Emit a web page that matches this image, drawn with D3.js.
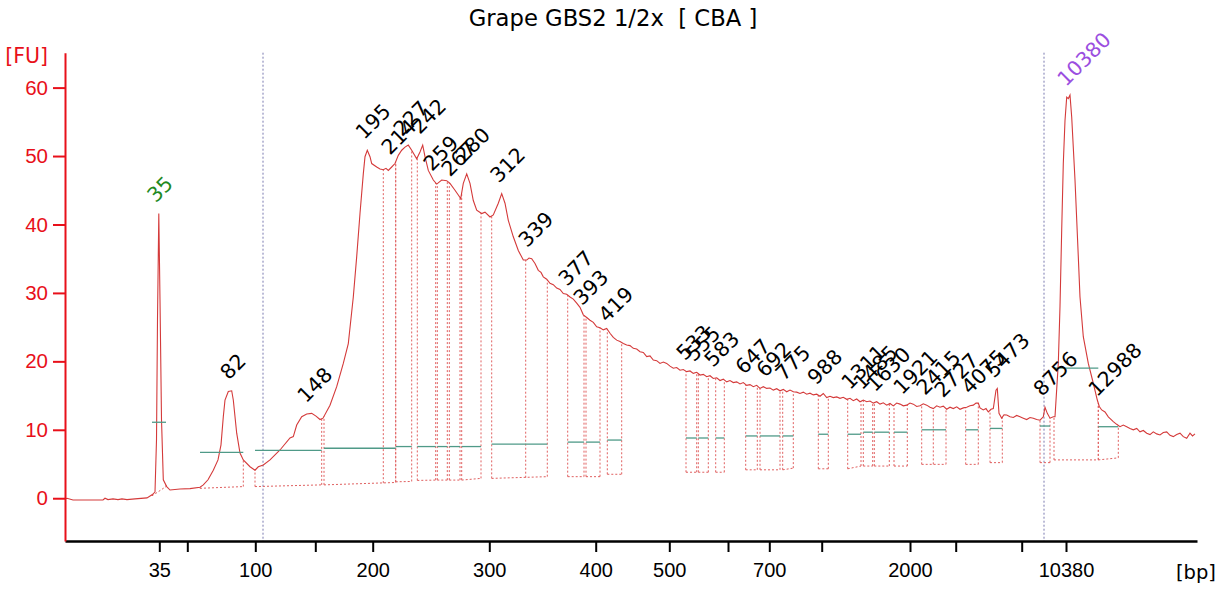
<!DOCTYPE html>
<html>
<head>
<meta charset="utf-8">
<script src="https://cdn.jsdelivr.net/npm/d3@7"></script>
<style>
body { margin: 0; background: #fff; }
svg { font-family: "DejaVu Sans", Verdana, sans-serif; }
</style>
</head>
<body>
<svg width="1217" height="590"></svg>
<script>
// migration time [s] -> fluorescence [FU]
const trace = [
  [40.0, -0.1], [40.2, 0.0], [40.8, -0.25], [42.5, -0.25], [43.8, -0.25], [44.0, 0.0],
  [44.3, -0.2], [44.8, -0.1], [45.3, -0.2], [45.7, -0.1], [46.2, -0.2], [47.0, -0.1],
  [48.2, 0.05], [48.7, 0.5], [49.0, 0.9], [49.15, 8.5], [49.25, 26.1], [49.38, 41.6],
  [49.5, 29.0], [49.65, 11.5], [49.83, 2.7], [50.17, 1.7], [50.5, 1.2], [51.5, 1.35],
  [52.5, 1.4], [53.5, 1.6], [53.83, 1.95], [54.3, 2.7], [54.83, 4.1], [55.3, 5.6],
  [55.6, 7.8], [55.83, 11.9], [56.0, 14.35], [56.33, 15.6], [56.67, 15.7], [56.83, 14.35],
  [57.17, 9.5], [57.5, 6.6], [57.83, 5.6], [58.5, 4.6], [59.0, 4.1], [59.33, 4.6],
  [59.83, 4.85], [60.5, 5.6], [61.5, 7.05], [62.5, 8.8], [62.83, 9.0], [63.17, 10.7],
  [63.67, 11.9], [64.17, 12.3], [64.67, 12.4], [65.1, 12.0], [65.5, 11.5], [65.8, 11.7],
  [66.5, 13.6], [67.17, 16.3], [67.83, 19.7], [68.33, 22.6], [68.83, 29.4], [69.17, 35.3],
  [69.5, 41.6], [69.83, 47.4], [70.0, 49.9], [70.23, 50.85], [70.5, 49.9], [70.67, 48.9],
  [71.17, 48.4], [71.5, 48.1], [71.83, 48.0], [72.1, 48.2], [72.33, 47.9], [72.67, 48.4],
  [73.0, 48.9], [73.33, 50.1], [73.67, 50.85], [74.0, 51.3], [74.33, 51.6], [74.67, 50.85],
  [75.17, 49.6], [75.5, 50.6], [75.77, 51.6], [76.0, 49.9], [76.33, 47.9], [76.83, 46.5],
  [77.17, 45.9], [77.67, 46.5], [78.17, 46.4], [78.5, 46.0], [79.0, 45.0], [79.33, 44.3],
  [79.57, 43.8], [79.83, 46.0], [80.17, 47.4], [80.5, 46.0], [80.83, 43.5], [81.17, 42.1],
  [81.67, 41.6], [82.0, 41.8], [82.5, 41.1], [82.83, 41.4], [83.33, 43.1], [83.67, 44.5],
  [84.0, 43.1], [84.33, 40.6], [84.83, 38.2], [85.33, 36.2], [85.83, 34.8], [86.17, 34.8],
  [86.4, 35.1], [86.67, 35.0], [87.0, 34.3], [87.33, 33.3], [87.6, 33.0], [87.83, 32.35],
  [88.17, 32.0], [88.5, 31.4], [88.83, 31.2], [89.17, 30.7], [89.5, 30.5], [89.83, 29.9],
  [90.17, 29.8], [90.5, 29.4], [90.83, 29.1], [91.17, 28.5], [91.5, 27.9], [91.83, 26.8],
  [92.17, 26.4], [92.5, 26.0], [92.83, 25.7], [93.17, 25.05], [93.5, 24.9], [93.83, 24.6],
  [94.17, 24.8], [94.5, 24.1], [94.83, 23.5], [95.17, 23.1], [95.5, 22.9], [95.83, 22.6],
  [96.17, 22.4], [96.5, 22.3], [96.83, 21.9], [97.17, 21.8], [97.5, 21.4], [97.83, 21.3],
  [98.17, 20.7], [98.5, 20.8], [98.83, 20.2], [99.17, 20.1], [99.5, 19.7], [99.83, 19.9],
  [100.17, 19.7], [100.5, 19.3], [100.83, 19.0], [101.17, 19.1], [101.5, 18.7], [101.83, 18.8],
  [102.17, 18.5], [102.5, 18.6], [102.83, 18.25], [103.17, 18.4], [103.5, 18.0], [103.83, 18.1],
  [104.17, 17.75], [104.5, 17.9], [104.83, 17.5], [105.17, 17.6], [105.5, 17.2], [105.83, 17.4],
  [106.17, 17.0], [106.5, 17.2], [106.83, 16.9], [107.17, 17.0], [107.5, 16.7], [107.83, 16.9],
  [108.17, 16.5], [108.5, 16.6], [108.83, 16.3], [109.17, 16.5], [109.5, 16.05], [109.83, 16.3],
  [110.17, 16.05], [110.5, 16.1], [110.83, 15.8], [111.17, 16.0], [111.5, 15.7], [111.83, 15.9],
  [112.17, 15.55], [112.5, 15.8], [112.83, 15.55], [113.17, 15.5], [113.5, 15.3], [113.83, 15.5],
  [114.17, 15.2], [114.5, 15.35], [114.83, 15.1], [115.17, 15.2], [115.5, 14.9], [115.83, 15.3],
  [116.17, 14.7], [116.5, 14.9], [116.83, 14.7], [117.17, 14.8], [117.5, 14.6], [117.83, 14.75],
  [118.17, 14.45], [118.5, 14.6], [118.83, 14.25], [119.17, 14.5], [119.5, 14.1], [119.83, 14.35],
  [120.17, 14.1], [120.5, 14.2], [120.83, 13.9], [121.17, 14.1], [121.5, 13.75], [121.83, 13.95],
  [122.17, 13.6], [122.5, 13.85], [122.83, 13.5], [123.17, 13.9], [123.5, 13.75], [123.83, 13.5],
  [124.17, 13.6], [124.5, 13.9], [124.83, 13.75], [125.17, 13.4], [125.5, 13.5], [125.83, 13.8],
  [126.17, 13.6], [126.5, 13.3], [126.83, 13.1], [127.17, 13.5], [127.5, 13.3], [127.83, 13.45],
  [128.17, 13.0], [128.5, 13.3], [128.83, 13.1], [129.17, 13.35], [129.5, 13.0], [129.83, 13.2],
  [130.17, 13.3], [130.5, 13.5], [130.83, 13.6], [131.1, 13.9], [131.33, 13.9], [131.5, 13.2],
  [131.83, 12.9], [132.1, 13.1], [132.33, 12.6], [132.6, 13.0], [132.83, 13.1], [133.1, 15.8],
  [133.23, 16.05], [133.4, 12.4], [133.67, 11.7], [133.9, 12.2], [134.17, 12.15], [134.5, 11.9],
  [134.83, 11.8], [135.17, 12.1], [135.5, 11.9], [135.83, 11.7], [136.17, 11.5], [136.5, 11.8],
  [136.83, 11.7], [137.17, 11.5], [137.5, 11.4], [137.83, 11.9], [138.0, 13.3], [138.23, 12.4],
  [138.5, 11.7], [138.83, 11.9], [139.0, 11.9], [139.33, 19.7], [139.5, 28.0], [139.67, 39.2],
  [139.83, 48.9], [140.0, 55.2], [140.17, 58.6], [140.33, 58.4], [140.5, 58.9], [140.67, 55.7],
  [141.0, 46.5], [141.33, 35.3], [141.5, 29.4], [141.83, 23.6], [142.33, 19.7], [142.83, 16.8],
  [143.23, 14.35], [143.43, 13.4], [143.67, 12.9], [144.0, 12.6], [144.33, 11.9], [144.83, 11.2],
  [145.17, 10.8], [145.5, 10.45], [145.83, 10.7], [146.17, 10.45], [146.5, 10.2], [146.83, 10.0],
  [147.17, 10.2], [147.5, 9.7], [147.83, 9.9], [148.17, 9.5], [148.5, 9.3], [148.83, 9.7],
  [149.17, 9.4], [149.5, 9.25], [149.83, 9.6], [150.17, 9.7], [150.5, 9.2], [150.83, 9.0],
  [151.17, 9.3], [151.5, 9.5], [151.83, 9.0], [152.17, 8.75], [152.5, 9.5], [152.75, 9.1],
  [153.0, 9.4]
];

// x ticks: ladder sizes at their migration times
const tickTimes  = [49.43, 52.23, 59.03, 65.03, 70.77, 82.43, 93.07, 100.43, 106.3, 110.43, 115.67, 124.5, 129.07, 135.67, 140.1];
const tickLabels = ["35", "", "100", "", "200", "300", "400", "500", "", "700", "", "2000", "", "", "10380"];
const yTicks = [0, 10, 20, 30, 40, 50, 60];

// called peaks: size label and migration time
const peakSizes = [35, 82, 148, 195, 214, 227, 242, 259, 267, 280, 312, 339, 377, 393, 419,
  533, 555, 583, 647, 692, 775, 988, 1311, 1485, 1630, 1921, 2415, 2727, 4075, 5473, 8756, 10380, 12988];
const peakTimes = [49.38, 56.67, 64.4, 70.23, 72.8, 74.0, 75.77, 77.0, 78.8, 80.17, 83.67, 86.5, 90.5, 92.0, 94.5,
  102.3, 103.2, 105.1, 108.2, 110.3, 112.2, 115.4, 118.8, 120.0, 121.3, 124.0, 126.3, 128.1, 130.8, 133.2, 138.0, 140.4, 143.5];
const peakColors = {35: "#1f8a1f", 10380: "#9b4ee0"};

// integration regions: start, end, mark height, baseline at start, baseline at end
const regions = [
  [48.7, 50.1, 11.1, 0.35, 1.7],
  [53.5, 57.83, 6.7, 1.45, 1.7],
  [59.0, 65.67, 7.0, 1.7, 1.95],
  [65.9, 73.07, 7.3, 1.95, 2.3],
  [73.07, 74.67, 7.55, 2.4, 2.45],
  [75.23, 77.07, 7.55, 2.6, 2.65],
  [77.23, 78.23, 7.55, 2.65, 2.65],
  [78.43, 79.5, 7.55, 2.65, 2.65],
  [79.67, 81.6, 7.55, 2.65, 2.9],
  [82.67, 88.23, 7.9, 2.9, 3.15],
  [90.27, 91.9, 8.2, 3.15, 3.15],
  [92.1, 93.5, 8.2, 3.15, 3.15],
  [94.23, 95.67, 8.5, 3.5, 3.5],
  [102.1, 103.17, 8.8, 3.8, 3.8],
  [103.33, 104.33, 8.8, 3.8, 3.8],
  [105.07, 105.93, 8.8, 3.8, 3.8],
  [108.07, 109.23, 9.1, 4.15, 4.15],
  [109.5, 111.5, 9.1, 4.15, 4.15],
  [111.77, 112.83, 9.1, 4.15, 4.4],
  [115.33, 116.33, 9.35, 4.3, 4.3],
  [118.27, 119.6, 9.35, 4.3, 4.7],
  [119.83, 120.77, 9.65, 4.7, 4.7],
  [120.93, 122.43, 9.65, 4.7, 4.7],
  [122.9, 124.23, 9.65, 4.7, 4.7],
  [125.67, 128.1, 10.0, 4.95, 4.95],
  [130.07, 131.33, 10.0, 4.95, 4.95],
  [132.5, 133.73, 10.2, 5.2, 5.2],
  [137.5, 138.5, 10.55, 5.2, 5.2],
  [138.9, 143.33, 19.0, 5.6, 5.6],
  [143.33, 145.33, 10.45, 5.6, 5.9]
];
// split lines inside regions: time, baseline
const splits = [[71.83, 2.2], [86.07, 3.0], [126.83, 4.95]];
// lower / upper marker times
const markers = [59.8, 137.9];

const svg = d3.select('svg');
const x = d3.scaleLinear().domain([40, 153.2]).range([65, 1197]);
const y = d3.scaleLinear().domain([-6.25, 65.1]).range([541, 52.7]);

const bis = d3.bisector(d => d[0]).left;
function valueAt(t) {
    const i = Math.max(1, Math.min(trace.length - 1, bis(trace, t)));
    const a = trace[i - 1], b = trace[i];
    return a[1] + (b[1] - a[1]) * (t - a[0]) / (b[0] - a[0]);
}

svg.append('text')
    .attr('x', 613).attr('y', 26)
    .attr('text-anchor', 'middle')
    .style('font-size', '22.7px')
    .style('white-space', 'pre')
    .text('Grape GBS2 1/2x  [ CBA ]');

// marker lines
svg.selectAll('line.marker').data(markers).enter().append('line')
    .attr('class', 'marker')
    .attr('x1', d => x(d)).attr('x2', d => x(d))
    .attr('y1', y(65.1)).attr('y2', y(-6.25))
    .attr('stroke', '#7a7ab0').attr('stroke-width', 1)
    .attr('stroke-dasharray', '2,2');

// integration regions
const dotted = {stroke: '#e06060', 'stroke-width': 1, 'stroke-dasharray': '2,2'};
const rg = svg.append('g');
regions.forEach(r => {
    const [t0, t1, g, b0, b1] = r;
    const lines = [
        [t0, b0, t1, b1],
        [t0, b0, t0, valueAt(t0)],
        [t1, b1, t1, valueAt(t1)]
    ];
    lines.forEach(l => {
        const ln = rg.append('line')
            .attr('x1', x(l[0])).attr('y1', y(l[1]))
            .attr('x2', x(l[2])).attr('y2', y(l[3]));
        Object.entries(dotted).forEach(([k, v]) => ln.attr(k, v));
    });
});
splits.forEach(s => {
    const ln = rg.append('line')
        .attr('x1', x(s[0])).attr('y1', y(s[1]))
        .attr('x2', x(s[0])).attr('y2', y(valueAt(s[0])));
    Object.entries(dotted).forEach(([k, v]) => ln.attr(k, v));
});

// trace
svg.append('path')
    .datum(trace)
    .attr('fill', 'none')
    .attr('stroke', '#d43a3a')
    .attr('stroke-width', 1.1)
    .attr('d', d3.line().x(d => x(d[0])).y(d => y(d[1])));

// peak height marks
svg.selectAll('line.mark').data(regions).enter().append('line')
    .attr('class', 'mark')
    .attr('x1', d => x(d[0])).attr('x2', d => x(d[1]))
    .attr('y1', d => y(d[2])).attr('y2', d => y(d[2]))
    .attr('stroke', '#4f9a88').attr('stroke-width', 1.3);

// axes
const xAxis = d3.axisBottom(x)
    .tickValues(tickTimes)
    .tickFormat((d, i) => tickLabels[i])
    .tickSize(11).tickSizeOuter(0).tickPadding(11);
const gx = svg.append('g').attr('transform', 'translate(0,541)').call(xAxis);
gx.select('.domain').attr('stroke', '#000').attr('stroke-width', 2.5);
gx.selectAll('.tick line').attr('stroke', '#000').attr('stroke-width', 2);
gx.selectAll('.tick text').attr('fill', '#000').style('font-size', '20px');

const yAxis = d3.axisLeft(y).tickValues(yTicks).tickSize(12).tickSizeOuter(0).tickPadding(5);
const gy = svg.append('g').attr('transform', 'translate(65,0)').call(yAxis);
gy.select('.domain').attr('stroke', '#e8101a').attr('stroke-width', 2);
gy.selectAll('.tick line').attr('stroke', '#e8101a').attr('stroke-width', 2);
gy.selectAll('.tick text').attr('fill', '#e8101a').style('font-size', '20.5px');

svg.append('text').attr('x', 48).attr('y', 63).attr('text-anchor', 'end')
    .attr('fill', '#e8101a').style('font-size', '20.5px').text('[FU]');
svg.append('text').attr('x', 1196).attr('y', 579).attr('text-anchor', 'middle')
    .attr('fill', '#000').style('font-size', '19.5px').text('[bp]');

// peak labels
svg.selectAll('text.peak').data(peakSizes).enter().append('text')
    .attr('class', 'peak')
    .attr('transform', (d, i) => {
        const t = peakTimes[i];
        return `translate(${x(t) - 3},${y(valueAt(t)) - 10}) rotate(-45)`;
    })
    .attr('fill', d => peakColors[d] || '#000')
    .style('font-size', '20.5px')
    .text(d => d);
</script>
</body>
</html>
